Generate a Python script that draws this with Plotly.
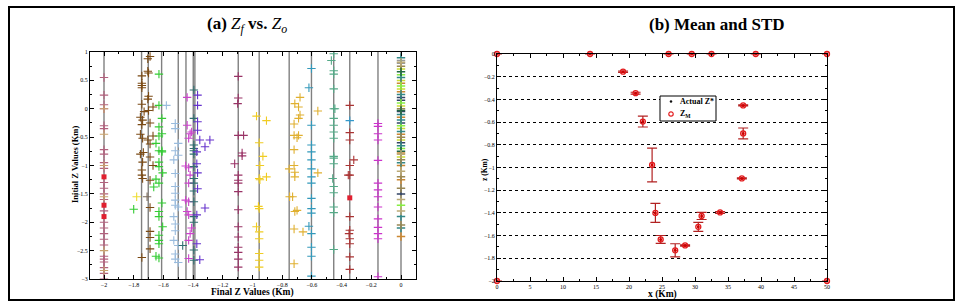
import plotly.graph_objects as go

# ---------------- data: panel (a) ----------------
# actual Z* positions (vertical reference lines), Km
z_star_lines = [-2.0, -1.747, -1.702, -1.612, -1.5, -1.448, -1.399, -1.388,
                -1.096, -0.955, -0.753, -0.603, -0.453, -0.345, -0.155, 0.0]

c1_zf = [-2.0] * 26
c1_zo = [0.55, 0.24, 0.07, 0.0, -0.3, -0.35, -0.72, -0.8, -0.95, -1.05, -1.3, -1.4, -1.5,
         -1.6, -1.8, -2.0, -2.1, -2.2, -2.3, -2.4, -2.6, -2.65, -2.7, -2.8, -2.9, -3.0]
c1b_zf = [-2.0] * 6
c1b_zo = [0.0, -0.45, -1.0, -1.55, -2.5, -2.85]
c1c_zf = [-2.0, -2.0, -2.0, -0.345]
c1c_zo = [-1.2, -1.7, -1.9, -1.57]

c2_zf = [-1.69, -1.705, -1.70, -1.705, -1.745, -1.745, -1.745, -1.745, -1.70, -1.705,
         -1.745, -1.67, -1.73, -1.70, -1.755, -1.74, -1.69, -1.745, -1.755, -1.67, -1.74,
         -1.705, -1.69, -1.755, -1.735, -1.69, -1.74, -1.67, -1.745, -1.745, -1.74, -1.69,
         -1.69, -1.69, -1.69, -1.69, -1.745]
c2_zo = [0.92, 0.88, 0.63, 0.66, 0.58, 0.45, 0.41, 0.37, 0.22, 0.17, 0.08, 0.03, -0.05,
         -0.03, -0.15, -0.2, -0.25, -0.28, -0.45, -0.48, -0.52, -0.55, -0.62, -0.8, -0.77,
         -0.85, -0.94, -1.0, -1.08, -1.17, -1.23, -1.26, -1.74, -2.16, -2.27, -2.47, -2.62]
c2b_zf = [-1.71]
c2b_zo = [-1.55]
c2c_zf = [-1.78]
c2c_zo = [-1.55]

c3_zf = [-1.63, -1.63, -1.61, -1.63, -1.61, -1.63, -1.65, -1.63, -1.61, -1.61, -1.63,
         -1.63, -1.605, -1.65, -1.63, -1.665, -1.61, -1.63, -1.63, -1.605, -1.63, -1.63,
         -1.63, -1.65, -1.63, -1.80]
c3_zo = [0.61, 0.06, -0.17, -0.32, -0.44, -0.48, -0.61, -0.74, -0.74, -0.76, -0.94,
         -1.02, -1.13, -1.24, -1.31, -1.38, -1.66, -1.81, -1.9, -2.08, -2.23, -2.32,
         -2.38, -2.6, -2.63, -1.77]

c4_zf = [-1.58, -1.52, -1.52, -1.5, -1.52, -1.5, -1.53, -1.52, -1.52, -1.52, -1.52,
         -1.52, -1.5, -1.53, -1.52, -1.52, -1.53, -1.5, -1.52, -1.52, -1.5]
c4_zo = [0.06, -0.26, -0.35, -0.61, -0.74, -0.82, -0.9, -1.14, -1.37, -1.49, -1.61,
         -1.7, -1.73, -1.9, -2.03, -2.15, -2.32, -2.41, -2.56, -2.65, -2.71]

c5_zf = [-1.44, -1.44, -1.42, -1.43, -1.41, -1.45, -1.43, -1.42, -1.43, -1.45, -1.43,
         -1.44, -1.43, -1.41, -1.42, -1.43, -1.43]
c5_zo = [0.2, -0.29, -0.44, -0.52, -0.41, -1.01, -1.04, -1.17, -1.31, -1.61, -1.64,
         -1.81, -1.87, -2.1, -2.2, -2.32, -2.64]

c6_zf = [-1.395] * 15 + [-1.47]
c6_zo = [0.33, -0.17, -0.64, -0.74, -0.8, -1.02, -1.23, -1.31, -1.64, -1.9, -2.49,
         -2.67, -0.7, -1.45, -2.0, -2.41]

c7_zf = [-1.37, -1.37, -1.37, -1.37, -1.355, -1.287, -1.32, -1.375, -1.375, -1.37,
         -1.37, -1.32, -1.375, -1.375, -1.355]
c7_zo = [0.24, 0.06, -0.23, -0.38, -0.55, -0.55, -0.67, -0.76, -0.97, -1.13, -1.41,
         -1.75, -1.87, -2.38, -2.66]

c8_zf = [-1.096, -1.096, -1.10, -1.096, -1.06, -1.07, -1.12, -1.07] + [-1.096] * 11
c8_zo = [0.57, 0.19, 0.09, -0.47, -0.47, -0.78, -0.97, -0.83, -1.17, -1.26, -1.31,
         -1.46, -1.78, -2.08, -2.26, -2.44, -2.53, -2.65, -2.79]

c9_zf = [-0.973, -0.906, -0.955, -0.93, -0.95, -0.955, -0.906, -0.955, -0.973, -0.955,
         -0.955, -0.955, -0.955, -0.955, -0.95, -0.96]
c9_zo = [-0.13, -0.21, -0.6, -0.84, -1.0, -1.23, -1.2, -1.76, -2.08, -2.17, -2.29,
         -2.55, -2.67, -2.79, -1.25, -1.72]

c10_zf = [-0.715, -0.68, -0.69, -0.68, -0.69, -0.56, -0.72, -0.72, -0.70, -0.69, -0.72,
          -0.72, -0.753, -0.715, -0.715, -0.56, -0.75, -0.73, -0.715, -0.72, -0.66,
          -0.72, -0.70]
c10_zo = [0.09, 0.2, 0.03, -0.11, -0.17, -0.04, -0.27, -0.47, -0.51, -0.47, -0.72,
          -1.0, -1.06, -1.12, -1.2, -1.13, -1.55, -1.55, -1.81, -2.12, -2.17, -2.73,
          -1.79]

c11_zf = [-0.603] * 15 + [-0.62, -0.62]
c11_zo = [0.71, -0.29, -0.64, -0.76, -0.9, -1.06, -1.2, -1.31, -1.58, -1.76, -1.84,
          -2.44, -2.6, -2.95, -2.2, 0.37, -2.07]

c12_zf = [-0.469] + [-0.453] * 17 + [-0.46, -0.445]
c12_zo = [0.85, 0.97, 0.67, 0.61, 0.35, 0.0, -0.17, -0.29, -0.41, -0.52, -0.84, -0.87,
          -0.97, -1.37, -1.48, -1.73, -1.83, -2.48, -1.23, 0.0]

c13_zf = [-0.345] * 11 + [-0.318, -0.355, -0.35]
c13_zo = [0.06, -0.42, -0.55, -1.0, -1.17, -1.9, -2.14, -2.29, -2.38, -2.61, -2.83,
          -0.9, -1.17, -2.2]
c13b_zf = [-0.345]
c13b_zo = [-0.21]

c14_zf = [-0.155] * 14
c14_zo = [-0.26, -0.31, -0.44, -0.55, -0.91, -1.31, -1.43, -1.55, -1.73, -1.94, -2.09,
          -2.2, -2.29, -2.96]

# stacked column at Zf = 0 (several runs)
s0_gray = [0.85, 0.8]
s0_ygreen = [0.7, 0.5, 0.35, 0.05, -0.35, -0.55, -0.85]
s0_navy = [0.2, 0.15, -0.05, -0.25, -0.6, -1.5]
s0_orange = [0.45, 0.3, -0.15, -0.45, -0.78, -1.0, -1.25, -2.25]
s0_lime = [0.6, 0.4, 0.1, -0.3, -0.7, -1.7]
s0_teal = [0.9, 0.55, 0.25, -0.1, -0.2, -0.4, -0.65, -0.95, -1.9, -2.1]
s0_olive = [0.75, 0.0, -0.5, -0.9, -1.2, -1.4, -2.05]
s0_dgreen = [0.65, -0.03, -0.75]
s0_tan = [0.82, -0.8, -1.1, -1.6, -1.8]

# ---------------- data: panel (b) ----------------
x_km = [0, 14.1, 26, 29.5, 32.5, 39.2, 50, 19.1, 21.0, 22.1, 23.5, 24.0, 24.8, 27.0,
        28.5, 30.5, 31.0, 33.8, 37.1, 37.3, 37.3, 0, 50]
z_actual = [0, 0, 0, 0, 0, 0, 0, -0.156, -0.345, -0.595, -0.978, -1.40, -1.634, -1.73,
            -1.687, -1.523, -1.427, -1.396, -1.096, -0.453, -0.70, -2, -2]
z_mean = [0, 0, 0, 0, 0, 0, 0, -0.156, -0.345, -0.595, -0.978, -1.40, -1.634, -1.73,
          -1.687, -1.523, -1.427, -1.396, -1.096, -0.453, -0.70, -2, -2]
z_std = [0, 0, 0, 0, 0, 0, 0, 0.006, 0.008, 0.048, 0.148, 0.084, 0.035, 0.058, 0.005,
         0.04, 0.031, 0.008, 0.005, 0.005, 0.048, 0, 0]
legend_labels = ["<b>Actual Z*</b>", "<b>Z<sub>M</sub></b>"]

SERIF = "Liberation Serif"
W, H = 961, 308


def px(x):
    return x / W


def py(y):
    return 1 - y / H


fig = go.Figure()

clusters = [
    (c1_zf, c1_zo, "#b3607d"),
    (c1b_zf, c1b_zo, "#c9a36e"),
    (c2_zf, c2_zo, "#7b4a14"),
    (c2b_zf, c2b_zo, "#7a6a5a"),
    (c2c_zf, c2c_zo, "#eedd33"),
    (c3_zf, c3_zo, "#33cc33"),
    (c4_zf, c4_zo, "#99bbdd"),
    (c5_zf, c5_zo, "#cc44cc"),
    (c6_zf, c6_zo, "#2f6f70"),
    (c7_zf, c7_zo, "#6633cc"),
    (c8_zf, c8_zo, "#993366"),
    (c9_zf, c9_zo, "#f0cc22"),
    (c10_zf, c10_zo, "#e0b030"),
    (c11_zf, c11_zo, "#3399bb"),
    (c12_zf, c12_zo, "#55aa88"),
    (c13_zf, c13_zo, "#aa3333"),
    (c13b_zf, c13b_zo, "#3399cc"),
    (c14_zf, c14_zo, "#cc33cc"),
]
for xs, ys, col in clusters:
    fig.add_trace(go.Scatter(x=xs, y=ys, mode="markers", xaxis="x", yaxis="y",
                             marker=dict(symbol="cross-thin", size=6, color=col,
                                         line=dict(color=col, width=1.1)),
                             showlegend=False, hoverinfo="skip"))
fig.add_trace(go.Scatter(x=c1c_zf, y=c1c_zo, mode="markers", xaxis="x", yaxis="y",
                         marker=dict(symbol="square", size=5, color="#e02030"),
                         showlegend=False, hoverinfo="skip"))

zero_cols = [(s0_gray, "#999999"), (s0_ygreen, "#ccdd33"), (s0_navy, "#334466"),
             (s0_orange, "#cc8833"), (s0_lime, "#88ee44"), (s0_teal, "#338888"),
             (s0_olive, "#998855"), (s0_dgreen, "#226644"), (s0_tan, "#bbaa77")]
for ys, col in zero_cols:
    fig.add_trace(go.Scatter(x=[0.0] * len(ys), y=ys, mode="markers", xaxis="x", yaxis="y",
                             marker=dict(symbol="cross-thin", size=6, color=col,
                                         line=dict(color=col, width=1.5)),
                             showlegend=False, hoverinfo="skip"))

# panel (b)
fig.add_trace(go.Scatter(x=x_km, y=z_mean, mode="markers", xaxis="x2", yaxis="y2",
                         error_y=dict(type="data", array=z_std, color="#b22222",
                                      thickness=1.2, width=5),
                         marker=dict(symbol="circle-open", size=5, color="#e31a1c",
                                     line=dict(width=1.3, color="#e31a1c")),
                         cliponaxis=False, showlegend=False, hoverinfo="skip"))
fig.add_trace(go.Scatter(x=x_km, y=z_actual, mode="markers", xaxis="x2", yaxis="y2",
                         marker=dict(symbol="circle", size=3, color="#d00000"),
                         cliponaxis=False, showlegend=False, hoverinfo="skip"))

shapes = []
for v in z_star_lines:
    shapes.append(dict(type="line", xref="x", yref="y domain", x0=v, x1=v, y0=0, y1=1,
                       line=dict(color="#808080", width=1.4), layer="below"))
# outer frame
shapes.append(dict(type="rect", xref="paper", yref="paper", x0=px(9), x1=px(954),
                   y0=py(300), y1=py(7), line=dict(color="black", width=2)))
# legend box for panel (b)
shapes.append(dict(type="rect", xref="paper", yref="paper", x0=px(660), x1=px(716),
                   y0=py(121), y1=py(96), line=dict(color="black", width=1),
                   fillcolor="white"))
shapes.append(dict(type="circle", xref="paper", yref="paper", x0=px(670), x1=px(672),
                   y0=py(102.5), y1=py(100.5), line=dict(color="black", width=0.5),
                   fillcolor="black"))
shapes.append(dict(type="circle", xref="paper", yref="paper", x0=px(668.8), x1=px(673.2),
                   y0=py(116.2), y1=py(111.8), line=dict(color="#e31a1c", width=1.2)))

tickfont = dict(family=SERIF, size=6, color="black")
common = dict(ticks="inside", ticklen=4, tickwidth=1, tickcolor="black", showline=True,
              linecolor="black", linewidth=1, mirror="allticks", zeroline=False,
              tickfont=tickfont, automargin=False)

fig.update_layout(
    width=W, height=H, margin=dict(l=0, r=0, t=0, b=0),
    paper_bgcolor="white", plot_bgcolor="white", showlegend=False,
    xaxis=dict(domain=[px(90), px(416)], range=[-2.0943, 0.101], dtick=0.2, tick0=0,
               showgrid=False, anchor="y",
               minor=dict(dtick=0.1, tick0=0, ticks="inside", ticklen=2, tickcolor="black"),
               **common),
    yaxis=dict(domain=[py(279), py(52)], range=[-3, 1], dtick=0.5, tick0=0,
               showgrid=False, anchor="x",
               minor=dict(dtick=0.25, tick0=0, ticks="inside", ticklen=2, tickcolor="black"),
               **common),
    xaxis2=dict(domain=[px(497), px(827)], range=[0, 50], dtick=5, tick0=0,
                showgrid=False, anchor="y2",
                minor=dict(dtick=2.5, tick0=0, ticks="inside", ticklen=2, tickcolor="black"),
                **common),
    yaxis2=dict(domain=[py(281), py(54)], range=[-2, 0], dtick=0.2, tick0=0,
                showgrid=True, gridcolor="black", griddash="dot", gridwidth=1, anchor="x2",
                minor=dict(dtick=0.1, tick0=0, ticks="inside", ticklen=2, tickcolor="black"),
                **common),
    shapes=shapes,
    annotations=[
        dict(text="<b>(a) </b><i>Z<sub>f</sub></i><b> vs. </b><i>Z<sub>o</sub></i>",
             xref="paper", yref="paper", x=px(247), y=py(25), showarrow=False,
             xanchor="center", yanchor="middle",
             font=dict(family=SERIF, size=17, color="black")),
        dict(text="<b>(b) Mean and STD</b>", xref="paper", yref="paper",
             x=px(717), y=py(24), showarrow=False, xanchor="center", yanchor="middle",
             font=dict(family=SERIF, size=17, color="black")),
        dict(text="<b>Final Z Values (Km)</b>", xref="paper", yref="paper",
             x=px(252), y=py(292.5), showarrow=False, xanchor="center", yanchor="middle",
             font=dict(family=SERIF, size=9.5, color="black")),
        dict(text="<b>Initial Z Values (Km)</b>", xref="paper", yref="paper",
             x=px(75), y=py(165), showarrow=False, textangle=-90,
             xanchor="center", yanchor="middle",
             font=dict(family=SERIF, size=8.5, color="black")),
        dict(text="<b>x (Km)</b>", xref="paper", yref="paper",
             x=px(662), y=py(294.5), showarrow=False, xanchor="center", yanchor="middle",
             font=dict(family=SERIF, size=9.5, color="black")),
        dict(text="<b>z (Km)</b>", xref="paper", yref="paper",
             x=px(484), y=py(170), showarrow=False, textangle=-90,
             xanchor="center", yanchor="middle",
             font=dict(family=SERIF, size=7.5, color="black")),
        dict(text=legend_labels[0], xref="paper", yref="paper", x=px(678), y=py(101.5),
             showarrow=False, xanchor="left", yanchor="middle",
             font=dict(family=SERIF, size=8, color="black")),
        dict(text=legend_labels[1], xref="paper", yref="paper", x=px(678), y=py(114),
             showarrow=False, xanchor="left", yanchor="middle",
             font=dict(family=SERIF, size=8, color="black")),
    ],
)

fig.write_html("out.html",
               config={"displayModeBar": False},
               post_script="document.body.style.margin='0';"
                           "document.body.style.overflow='hidden';")
